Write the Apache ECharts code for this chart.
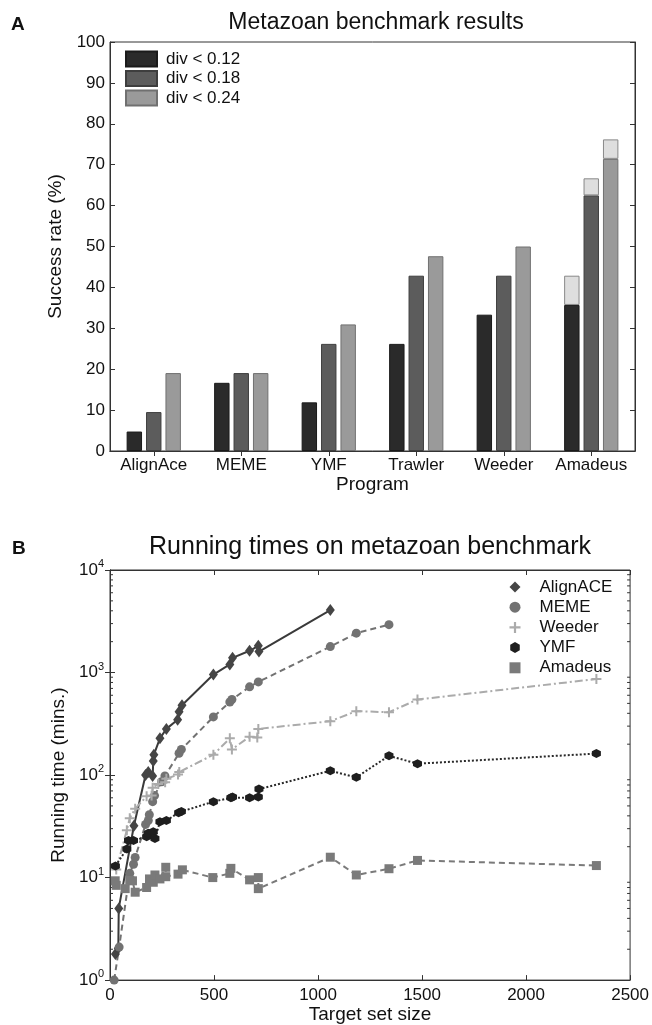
<!DOCTYPE html>
<html>
<head>
<meta charset="utf-8">
<script src="https://cdn.jsdelivr.net/npm/echarts@6/dist/echarts.min.js"></script>
<style>
html,body{margin:0;padding:0;background:#fff}
#main{width:652px;height:1025px}
</style>
</head>
<body>
<div id="main"></div>
<script>
// panel A: success rates (%)
const programs = ['AlignAce', 'MEME', 'YMF', 'Trawler', 'Weeder', 'Amadeus']
const div012 = [4.76, 16.67, 11.90, 26.19, 33.33, 35.71]
const div018 = [9.52, 19.05, 26.19, 42.86, 42.86, 62.50]
const div024 = [19.05, 19.05, 30.95, 47.62, 50.00, 71.43]
// light top segments on Amadeus (top of the pale block)
const top012 = [null, null, null, null, null, 42.86]
const top018 = [null, null, null, null, null, 66.67]
const top024 = [null, null, null, null, null, 76.19]

// panel B: running time (mins.) vs target set size
const alignace = [[26,1.8],[40,2.05],[42,5.0],[115,32],[171,100],[184,107],[205,98],[208,137],[211,158],[240,228],[271,282],[325,347],[332,415],[346,480],[497,955],[576,1200],[589,1390],[671,1630],[713,1820],[716,1600],[1059,4070]]
const meme = [[20,1.0],[44,2.1],[95,11],[113,13.5],[121,15.7],[171,33],[184,36],[189,41],[205,55],[214,63],[248,86],[264,98],[332,163],[343,178],[497,369],[576,516],[586,545],[671,725],[713,810],[1059,1790],[1184,2420],[1341,2930]]
const weeder = [[30,12],[81,29],[95,38],[121,47],[176,62],[200,63],[205,75],[232,82],[265,85],[271,92],[327,101],[333,107],[497,158],[576,228],[586,178],[671,237],[708,232],[713,282],[1059,335],[1184,420],[1341,410],[1478,545],[2338,865]]
const ymf = [[26,13],[81,19],[89,23],[113,23],[176,25],[184,27],[208,28],[216,24],[240,35],[271,36],[330,43],[343,44],[497,55],[581,60],[589,61],[671,60],[713,61],[716,73],[1059,110],[1184,95],[1341,154],[1478,129],[2338,162]]
const amadeus = [[25,9.3],[30,8.4],[73,7.8],[95,9.4],[108,9.3],[121,7.2],[176,8.0],[190,9.7],[208,9.0],[216,10.6],[240,9.7],[268,12.6],[268,10.2],[327,10.8],[348,11.9],[494,10.0],[576,11.0],[581,12.3],[671,9.5],[713,10.0],[713,7.8],[1059,15.8],[1184,10.6],[1341,12.2],[1478,14.7],[2338,13.1]]

const FONT = '"Liberation Sans", Arial, sans-serif'
const TXT = '#111'
const chart = echarts.init(document.getElementById('main'), null, {renderer: 'canvas'})

function extra(base, top) {
  return top.map((t, i) => t == null ? null : +(t - base[i]).toFixed(2))
}

const boxAxis = {
  axisLine: {show: true, lineStyle: {color: '#333', width: 1}},
  axisTick: {show: true, inside: true, length: 5, lineStyle: {color: '#333'}},
  splitLine: {show: false}
}
const nameStyle = {fontFamily: FONT, fontSize: 19, color: TXT}

function barSeries(name, data, stack, color, border) {
  return {
    name: name, type: 'bar', stack: stack, data: data,
    xAxisIndex: 0, yAxisIndex: 0,
    barCategoryGap: '38%', barGap: '26%',
    itemStyle: {color: color, borderColor: border, borderWidth: 1},
    emphasis: {disabled: true}
  }
}

function lineSeries(name, data, color, lineColor, symbol, size, type, width) {
  return {
    name: name, type: 'line', data: data,
    xAxisIndex: 2, yAxisIndex: 2,
    symbol: symbol, symbolSize: size, showAllSymbol: true,
    itemStyle: {color: color},
    lineStyle: {color: lineColor, width: width, type: type},
    emphasis: {disabled: true},
    z: 3
  }
}

const plus = 'path://M4,0H6V4H10V6H6V10H4V6H0V4H4Z'
const hexagon = 'path://M5,0L9.33,2.5L9.33,7.5L5,10L0.67,7.5L0.67,2.5Z'

const option = {
  backgroundColor: '#fff',
  animation: false,
  textStyle: {fontFamily: FONT, color: TXT},
  title: [
    {text: 'A', left: 6, top: 10, textStyle: {fontFamily: FONT, fontSize: 19, fontWeight: 'bold', color: TXT}},
    {text: 'Metazoan benchmark results', left: 371, top: 6, textAlign: 'center',
     textStyle: {fontFamily: FONT, fontSize: 23, fontWeight: 'normal', color: TXT}},
    {text: 'B', left: 7, top: 534, textStyle: {fontFamily: FONT, fontSize: 19, fontWeight: 'bold', color: TXT}},
    {text: 'Running times on metazoan benchmark', left: 365, top: 530, textAlign: 'center',
     textStyle: {fontFamily: FONT, fontSize: 25, fontWeight: 'normal', color: TXT}}
  ],
  legend: [
    {
      data: ['div < 0.12', 'div < 0.18', 'div < 0.24'],
      orient: 'vertical', left: 125, top: 50.5, padding: 0,
      itemWidth: 31, itemHeight: 15, itemGap: 2.5,
      icon: 'rect',
      textStyle: {fontFamily: FONT, fontSize: 17, color: TXT, padding: [0, 0, 0, 4]}
    },
    {
      data: [
        {name: 'AlignACE', icon: 'diamond'},
        {name: 'MEME', icon: 'circle'},
        {name: 'Weeder', icon: plus},
        {name: 'YMF', icon: hexagon},
        {name: 'Amadeus', icon: 'rect'}
      ],
      orient: 'vertical', left: 509.5, top: 578.5, padding: 0,
      itemWidth: 11, itemHeight: 11, itemGap: 3.2,
      textStyle: {fontFamily: FONT, fontSize: 17, color: TXT, padding: [0, 0, 0, 14]}
    }
  ],
  grid: [
    {left: 110, top: 42, width: 525, height: 409, show: true, borderColor: '#333', borderWidth: 1},
    {left: 110, top: 570, width: 523, height: 412, show: true, borderColor: '#333', borderWidth: 1}
  ],
  xAxis: [
    Object.assign({}, boxAxis, {
      type: 'category', gridIndex: 0, data: programs, position: 'bottom',
      axisTick: {show: true, inside: true, length: 5, alignWithLabel: true, lineStyle: {color: '#333'}},
      axisLabel: {fontFamily: FONT, fontSize: 17, color: TXT, margin: 6, interval: 0},
      name: 'Program', nameLocation: 'middle', nameGap: 23,
      nameTextStyle: nameStyle
    }),
    Object.assign({}, boxAxis, {
      type: 'category', gridIndex: 0, data: programs, position: 'top',
      axisTick: {show: true, inside: true, length: 5, alignWithLabel: true, lineStyle: {color: '#333'}},
      axisLabel: {show: false}
    }),
    Object.assign({}, boxAxis, {
      type: 'value', gridIndex: 1, min: 0, max: 2500, interval: 500, position: 'bottom',
      axisLabel: {fontFamily: FONT, fontSize: 17, color: TXT, margin: 7, formatter: v => String(v)},
      name: 'Target set size', nameLocation: 'middle', nameGap: 22,
      nameTextStyle: nameStyle
    }),
    Object.assign({}, boxAxis, {
      type: 'value', gridIndex: 1, min: 0, max: 2500, interval: 500, position: 'top',
      axisLabel: {show: false}
    })
  ],
  yAxis: [
    Object.assign({}, boxAxis, {
      type: 'value', gridIndex: 0, min: 0, max: 100, interval: 10, position: 'left',
      axisLabel: {fontFamily: FONT, fontSize: 17, color: TXT, margin: 5},
      name: 'Success rate (%)', nameLocation: 'middle', nameGap: 38,
      nameTextStyle: nameStyle
    }),
    Object.assign({}, boxAxis, {
      type: 'value', gridIndex: 0, min: 0, max: 100, interval: 10, position: 'right',
      axisLabel: {show: false}
    }),
    Object.assign({}, boxAxis, {
      type: 'log', logBase: 10, gridIndex: 1, min: 1, max: 10000, position: 'left',
      axisLabel: {
        fontFamily: FONT, fontSize: 17, color: TXT, margin: 6,
        formatter: function (v) {
          return '{b|10}{s|' + Math.round(Math.log10(v)) + '}'
        },
        rich: {
          b: {fontFamily: FONT, fontSize: 17, color: TXT},
          s: {fontFamily: FONT, fontSize: 11, color: TXT, padding: [0, 0, 12, 0]}
        }
      },
      name: 'Running time (mins.)', nameLocation: 'middle', nameGap: 38,
      nameTextStyle: nameStyle
    }),
    Object.assign({}, boxAxis, {
      type: 'log', logBase: 10, gridIndex: 1, min: 1, max: 10000, position: 'right',
      axisLabel: {show: false}
    })
  ],
  series: [
    barSeries('div < 0.12', div012, 'a', '#2a2a2a', '#1a1a1a'),
    barSeries('div < 0.12 top', extra(div012, top012), 'a', '#dedede', '#888'),
    barSeries('div < 0.18', div018, 'b', '#5c5c5c', '#3e3e3e'),
    barSeries('div < 0.18 top', extra(div018, top018), 'b', '#dedede', '#888'),
    barSeries('div < 0.24', div024, 'c', '#9a9a9a', '#707070'),
    barSeries('div < 0.24 top', extra(div024, top024), 'c', '#dedede', '#888'),
    lineSeries('AlignACE', alignace, '#454545', '#3a3a3a', 'diamond', [9, 12], 'solid', 2),
    lineSeries('MEME', meme, '#727272', '#727272', 'circle', 9, [6, 4], 2),
    lineSeries('Weeder', weeder, '#ababab', '#ababab', plus, 10, [8, 3, 2, 3], 2),
    lineSeries('YMF', ymf, '#1e1e1e', '#2a2a2a', hexagon, 9, [2, 2], 2),
    lineSeries('Amadeus', amadeus, '#7a7a7a', '#7a7a7a', 'rect', 9, [6, 4], 2)
  ]
}

chart.setOption(option)

// log minor ticks (2..9 per decade) on both sides of panel B
const minor = []
for (let e = 0; e < 4; e++) {
  for (let k = 2; k <= 9; k++) {
    const v = k * Math.pow(10, e)
    const p = chart.convertToPixel({xAxisIndex: 2, yAxisIndex: 2}, [0, v])
    const pr = chart.convertToPixel({xAxisIndex: 2, yAxisIndex: 2}, [2500, v])
    minor.push({type: 'line', shape: {x1: p[0], y1: p[1], x2: p[0] + 3, y2: p[1]}, style: {stroke: '#333', lineWidth: 1}, silent: true})
    minor.push({type: 'line', shape: {x1: pr[0] - 3, y1: pr[1], x2: pr[0], y2: pr[1]}, style: {stroke: '#333', lineWidth: 1}, silent: true})
  }
}
chart.setOption({graphic: minor})
</script>
</body>
</html>
